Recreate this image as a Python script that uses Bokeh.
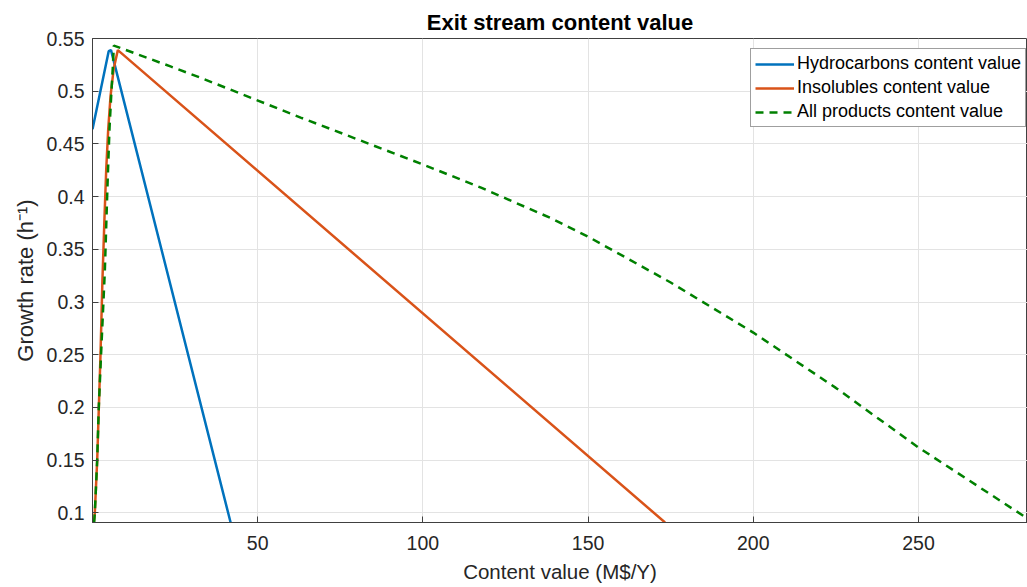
from bokeh.plotting import figure
from bokeh.models import CustomJSTickFormatter, Legend, LegendItem
from bokeh.embed import file_html
from bokeh.resources import INLINE

# ---- data ----
hc_x = [0.0, 4.9, 5.6, 41.8]
hc_y = [0.464, 0.538, 0.539, 0.0908]

ins_x = [0.4, 0.7, 1.42, 1.92, 2.42, 3.0, 3.64, 4.15, 4.75, 5.45, 6.4, 7.67, 173.3]
ins_y = [0.091, 0.1, 0.15, 0.2, 0.25, 0.32, 0.381, 0.4255, 0.4635, 0.495, 0.521, 0.539, 0.0908]

all_x = [0.5, 0.7, 1.42, 1.9, 2.6, 3.74, 4.24, 4.64, 5.15, 5.65, 6.15, 6.46,
         23.6, 32.7, 63.0, 100.0, 117.6, 138.8, 150.0, 175.0, 200.0, 225.0, 250.0, 285.0]
all_y = [0.091, 0.1, 0.15, 0.2, 0.251, 0.33, 0.381, 0.42, 0.465, 0.495, 0.523, 0.5433,
         0.5235, 0.5128, 0.475, 0.4305, 0.4085, 0.3795, 0.362, 0.3185, 0.271, 0.2185, 0.162, 0.0905]

x_ticks = [50, 100, 150, 200, 250]
y_ticks = [0.1, 0.15, 0.2, 0.25, 0.3, 0.35, 0.4, 0.45, 0.5, 0.55]

labels = ["Hydrocarbons content value", "Insolubles content value", "All products content value"]
colors = ["#0072BD", "#D95319", "#008000"]

FONT = "Liberation Sans"
TXT = "#262626"
AX = "#404040"

p = figure(width=1027, height=587, output_backend="svg", toolbar_location=None,
           x_range=(0.0, 283.0), y_range=(0.0908, 0.55),
           min_border_left=92, min_border_right=0, min_border_top=38, min_border_bottom=65,
           title="Exit stream content value")

p.title.text_font = FONT
p.title.text_font_size = "22px"
p.title.text_font_style = "bold"
p.title.text_color = "#000000"
p.title.align = "center"
p.title.standoff = 7
p.title.offset = 3

p.outline_line_color = AX
p.outline_line_width = 1

for ax in (p.xaxis[0], p.yaxis[0]):
    ax.axis_line_color = AX
    ax.major_tick_line_color = AX
    ax.major_tick_in = 6
    ax.major_tick_out = 0
    ax.minor_tick_line_color = None
    ax.major_label_text_font = FONT
    ax.major_label_text_font_size = "19.5px"
    ax.major_label_text_color = TXT
    ax.axis_label_text_font = FONT
    ax.axis_label_text_font_style = "normal"
    ax.axis_label_text_color = TXT

p.xaxis.ticker = x_ticks
p.yaxis.ticker = y_ticks
p.yaxis.formatter = CustomJSTickFormatter(code="return String(Math.round(tick*100)/100);")

p.xaxis.axis_label = "Content value (M$/Y)"
p.xaxis.axis_label_text_font_size = "20.5px"
p.xaxis.major_label_standoff = 13
p.xaxis.axis_label_standoff = 7

p.yaxis.axis_label = "Growth rate (h\u207b\u00b9)"
p.yaxis.axis_label_text_font_size = "22px"
p.yaxis.major_label_standoff = 8
p.yaxis.axis_label_standoff = 6

p.xgrid.grid_line_color = "#e3e3e3"
p.ygrid.grid_line_color = "#e3e3e3"

r1 = p.line(hc_x, hc_y, line_color=colors[0], line_width=2.5)
r2 = p.line(ins_x, ins_y, line_color=colors[1], line_width=2.5)
r3 = p.line(all_x, all_y, line_color=colors[2], line_width=2.5, line_dash="8 6")

legend = Legend(items=[LegendItem(label=labels[0], renderers=[r1]),
                       LegendItem(label=labels[1], renderers=[r2]),
                       LegendItem(label=labels[2], renderers=[r3])],
                location=(658, 394.7))
legend.label_text_font = FONT
legend.label_text_font_size = "18px"
legend.label_text_color = "#000000"
legend.glyph_width = 39
legend.glyph_height = 20
legend.label_height = 21
legend.label_standoff = 3
legend.padding = 4
legend.spacing = 3
legend.margin = 0
legend.border_line_color = AX
legend.border_line_width = 1
legend.background_fill_color = "white"
legend.background_fill_alpha = 1.0
p.add_layout(legend)

open("out.html", "w").write(file_html(p, INLINE))
